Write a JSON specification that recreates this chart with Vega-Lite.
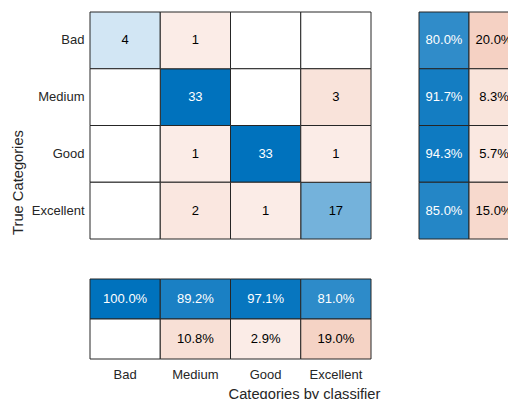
{
  "$schema": "https://vega.github.io/schema/vega-lite/v6.json",
  "padding": {"left": 10, "top": 11, "right": 0, "bottom": 0},
  "bounds": "flush",
  "columns": 2,
  "spacing": {"row": 40, "column": 48},
  "config": {
    "view": {"stroke": null},
    "font": "Liberation Sans",
    "axis": {
      "labelFont": "Liberation Sans",
      "labelFontSize": 13,
      "labelColor": "#262626",
      "titleFont": "Liberation Sans",
      "titleFontSize": 14.7,
      "titleFontWeight": "normal",
      "titleColor": "#262626",
      "ticks": false,
      "domain": false,
      "grid": false
    },
    "text": {"font": "Liberation Sans", "fontSize": 13}
  },
  "datasets": {
    "matrix": [
      {"actual": "Bad", "predicted": "Bad", "count": 4},
      {"actual": "Bad", "predicted": "Medium", "count": 1},
      {"actual": "Bad", "predicted": "Good", "count": 0},
      {"actual": "Bad", "predicted": "Excellent", "count": 0},
      {"actual": "Medium", "predicted": "Bad", "count": 0},
      {"actual": "Medium", "predicted": "Medium", "count": 33},
      {"actual": "Medium", "predicted": "Good", "count": 0},
      {"actual": "Medium", "predicted": "Excellent", "count": 3},
      {"actual": "Good", "predicted": "Bad", "count": 0},
      {"actual": "Good", "predicted": "Medium", "count": 1},
      {"actual": "Good", "predicted": "Good", "count": 33},
      {"actual": "Good", "predicted": "Excellent", "count": 1},
      {"actual": "Excellent", "predicted": "Bad", "count": 0},
      {"actual": "Excellent", "predicted": "Medium", "count": 2},
      {"actual": "Excellent", "predicted": "Good", "count": 1},
      {"actual": "Excellent", "predicted": "Excellent", "count": 17}
    ],
    "byRow": [
      {"actual": "Bad", "kind": "correct", "share": 0.8},
      {"actual": "Bad", "kind": "wrong", "share": 0.2},
      {"actual": "Medium", "kind": "correct", "share": 0.917},
      {"actual": "Medium", "kind": "wrong", "share": 0.083},
      {"actual": "Good", "kind": "correct", "share": 0.943},
      {"actual": "Good", "kind": "wrong", "share": 0.057},
      {"actual": "Excellent", "kind": "correct", "share": 0.85},
      {"actual": "Excellent", "kind": "wrong", "share": 0.15}
    ],
    "byColumn": [
      {"predicted": "Bad", "kind": "correct", "share": 1.0},
      {"predicted": "Bad", "kind": "wrong", "share": 0.0},
      {"predicted": "Medium", "kind": "correct", "share": 0.892},
      {"predicted": "Medium", "kind": "wrong", "share": 0.108},
      {"predicted": "Good", "kind": "correct", "share": 0.971},
      {"predicted": "Good", "kind": "wrong", "share": 0.029},
      {"predicted": "Excellent", "kind": "correct", "share": 0.81},
      {"predicted": "Excellent", "kind": "wrong", "share": 0.19}
    ]
  },
  "concat": [
    {
      "width": 281,
      "height": 227,
      "data": {"name": "matrix"},
      "encoding": {
        "x": {"field": "predicted", "type": "nominal", "sort": ["Bad", "Medium", "Good", "Excellent"], "scale": {"paddingInner": 0, "paddingOuter": 0}, "axis": null},
        "y": {
          "field": "actual", "type": "nominal", "sort": ["Bad", "Medium", "Good", "Excellent"],
          "scale": {"paddingInner": 0, "paddingOuter": 0},
          "axis": {"title": "True Categories", "labelPadding": 6, "titleAngle": 270, "titleBaseline": "bottom", "titleAlign": "center", "titleX": -65, "titleY": 170}
        }
      },
      "layer": [
        {
          "transform": [{"filter": "datum.actual === datum.predicted"}],
          "mark": {"type": "rect", "stroke": "#262626", "strokeWidth": 1},
          "encoding": {"color": {"field": "count", "type": "quantitative", "legend": null, "scale": {"type": "linear", "domain": [0, 0.01, 33], "range": ["#ffffff", "#eff6fb", "#0072bd"], "interpolate": "rgb"}}}
        },
        {
          "transform": [{"filter": "datum.actual !== datum.predicted"}],
          "mark": {"type": "rect", "stroke": "#262626", "strokeWidth": 1},
          "encoding": {"color": {"field": "count", "type": "quantitative", "legend": null, "scale": {"type": "linear", "domain": [0, 0.01, 33], "range": ["#ffffff", "#fcf1ed", "#d95319"], "interpolate": "rgb"}}}
        },
        {
          "transform": [{"filter": "datum.count > 0"}],
          "mark": {"type": "text"},
          "encoding": {
            "text": {"field": "count", "type": "quantitative"},
            "color": {"condition": {"test": "datum.actual === datum.predicted && datum.count > 20", "value": "#ffffff"}, "value": "#000000"}
          }
        }
      ],
      "resolve": {"scale": {"color": "independent"}}
    },
    {
      "width": 100,
      "height": 227,
      "data": {"name": "byRow"},
      "encoding": {
        "x": {"field": "kind", "type": "nominal", "sort": ["correct", "wrong"], "scale": {"paddingInner": 0, "paddingOuter": 0}, "axis": null},
        "y": {"field": "actual", "type": "nominal", "sort": ["Bad", "Medium", "Good", "Excellent"], "scale": {"paddingInner": 0, "paddingOuter": 0}, "axis": null}
      },
      "layer": [
        {
          "transform": [{"filter": "datum.kind === 'correct'"}],
          "mark": {"type": "rect", "stroke": "#262626", "strokeWidth": 1},
          "encoding": {"color": {"field": "share", "type": "quantitative", "legend": null, "scale": {"type": "linear", "domain": [0, 0.0001, 1], "range": ["#ffffff", "#eff6fb", "#0072bd"], "interpolate": "rgb"}}}
        },
        {
          "transform": [{"filter": "datum.kind === 'wrong'"}],
          "mark": {"type": "rect", "stroke": "#262626", "strokeWidth": 1},
          "encoding": {"color": {"field": "share", "type": "quantitative", "legend": null, "scale": {"type": "linear", "domain": [0, 0.0001, 1], "range": ["#ffffff", "#fcf1ed", "#d95319"], "interpolate": "rgb"}}}
        },
        {
          "transform": [{"filter": "datum.share > 0"}],
          "mark": {"type": "text"},
          "encoding": {
            "text": {"field": "share", "type": "quantitative", "format": ".1%"},
            "color": {"condition": {"test": "datum.kind === 'correct'", "value": "#ffffff"}, "value": "#000000"}
          }
        }
      ],
      "resolve": {"scale": {"color": "independent"}}
    },
    {
      "width": 281,
      "height": 80,
      "data": {"name": "byColumn"},
      "encoding": {
        "x": {
          "field": "predicted", "type": "nominal", "sort": ["Bad", "Medium", "Good", "Excellent"],
          "scale": {"paddingInner": 0, "paddingOuter": 0},
          "axis": {"title": "Categories by classifier", "labelAngle": 0, "labelPadding": 9, "titleX": 214, "titleY": 27, "titleBaseline": "top", "titleAlign": "center"}
        },
        "y": {"field": "kind", "type": "nominal", "sort": ["correct", "wrong"], "scale": {"paddingInner": 0, "paddingOuter": 0}, "axis": null}
      },
      "layer": [
        {
          "transform": [{"filter": "datum.kind === 'correct'"}],
          "mark": {"type": "rect", "stroke": "#262626", "strokeWidth": 1},
          "encoding": {"color": {"field": "share", "type": "quantitative", "legend": null, "scale": {"type": "linear", "domain": [0, 0.0001, 1], "range": ["#ffffff", "#eff6fb", "#0072bd"], "interpolate": "rgb"}}}
        },
        {
          "transform": [{"filter": "datum.kind === 'wrong'"}],
          "mark": {"type": "rect", "stroke": "#262626", "strokeWidth": 1},
          "encoding": {"color": {"field": "share", "type": "quantitative", "legend": null, "scale": {"type": "linear", "domain": [0, 0.0001, 1], "range": ["#ffffff", "#fcf1ed", "#d95319"], "interpolate": "rgb"}}}
        },
        {
          "transform": [{"filter": "datum.share > 0"}],
          "mark": {"type": "text"},
          "encoding": {
            "text": {"field": "share", "type": "quantitative", "format": ".1%"},
            "color": {"condition": {"test": "datum.kind === 'correct'", "value": "#ffffff"}, "value": "#000000"}
          }
        }
      ],
      "resolve": {"scale": {"color": "independent"}}
    }
  ]
}
